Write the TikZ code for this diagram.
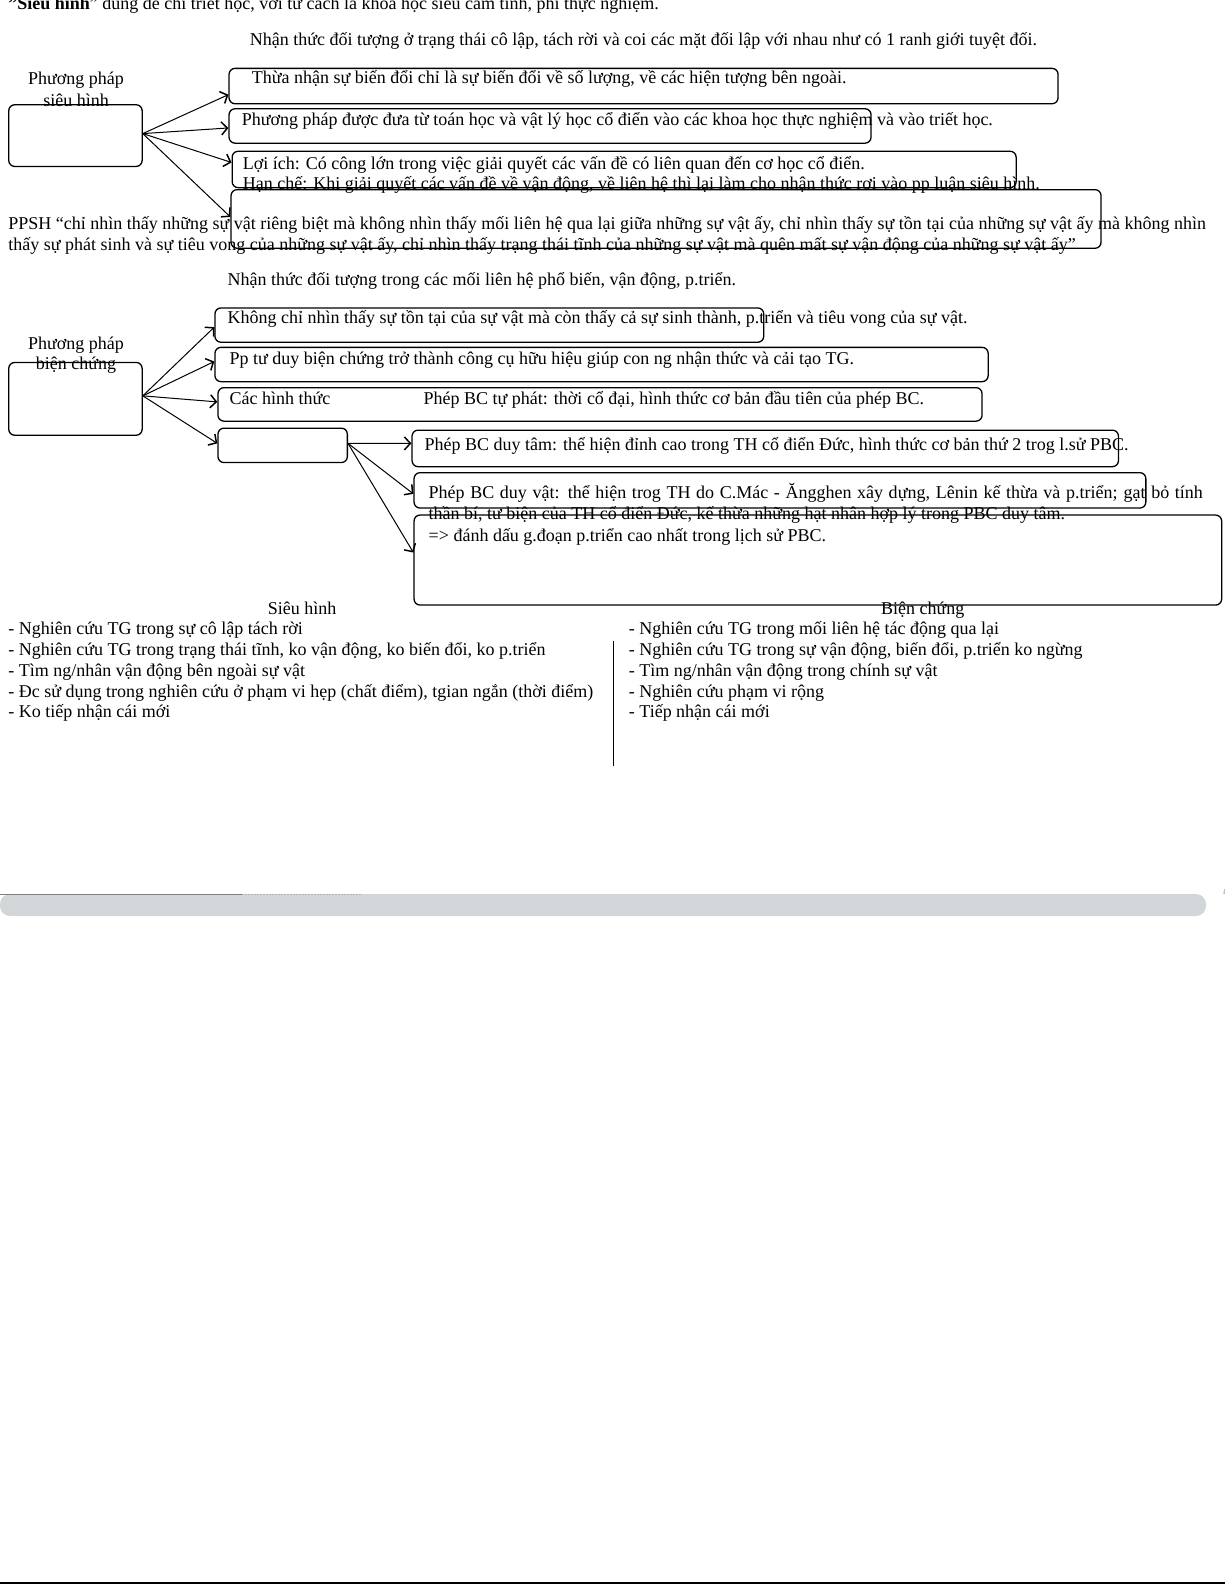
\documentclass[tikz,border=0pt]{standalone}
\usepackage{fontspec}
\setmainfont{Liberation Serif}
\usetikzlibrary{arrows.meta}
\begin{document}
\begin{tikzpicture}[x=1pt,y=-1pt,
  box/.style={draw, rounded corners=6pt, line width=1.3pt, anchor=north west, inner sep=0pt},
  txt/.style={anchor=base west, inner sep=0pt, font=\fontsize{18}{21}\selectfont},
  ctxt/.style={anchor=base, inner sep=0pt, font=\fontsize{18}{21}\selectfont},
  arr/.style={line width=1pt, -{Straight Barb[length=6pt,width=13pt,line width=1.5pt]}}]
\useasboundingbox (0,0) rectangle (1225,1585);
% top line (cut off at top edge, as in the reference)
\node[txt] (t0) at (8.1,9.5) {\textbf{\char34 Siêu hình}” dùng để chỉ triết học, với tư cách là khoa học siêu cảm tính, phi thực nghiệm.};
\begin{scope}[yshift=-2.5pt]
\node[txt] (t1) at (249.6,43) {Nhận thức đối tượng ở trạng thái cô lập, tách rời và coi các mặt đối lập với nhau như có 1 ranh giới tuyệt đối.};
\node[ctxt] (pp1) at (76,82) {Phương pháp};
\node[ctxt] (pp2) at (76,104) {siêu hình};
\node[txt] (b1t) at (251.7,81) {Thừa nhận sự biến đổi chỉ là sự biến đổi về số lượng, về các hiện tượng bên ngoài.};
\node[txt] (b2t) at (241.6,123.3) {Phương pháp được đưa từ toán học và vật lý học cổ điển vào các khoa học thực nghiệm và vào triết học.};
\node[txt] (b3t) at (242.6,166.8) {Lợi ích: Có công lớn trong việc giải quyết các vấn đề có liên quan đến cơ học cổ điển.};
\node[txt] (b3u) at (242.6,187) {Hạn chế: Khi giải quyết các vấn đề về vận động, về liên hệ thì lại làm cho nhận thức rơi vào pp luận siêu hình.};
\node[txt] (q1) at (8.1,227.4) {\hbox to 1197.7pt{PPSH “chỉ nhìn thấy những sự vật riêng biệt mà không nhìn thấy mối liên hệ qua lại giữa những sự vật ấy, chỉ nhìn thấy sự tồn tại của những sự vật ấy mà không nhìn}};
\node[txt] (q2) at (8.1,247.6) {thấy sự phát sinh và sự tiêu vong của những sự vật ấy, chỉ nhìn thấy trạng thái tĩnh của những sự vật mà quên mất sự vận động của những sự vật ấy”};
\node[txt] (t2) at (227.4,283) {Nhận thức đối tượng trong các mối liên hệ phổ biến, vận động, p.triển.};
\node[ctxt] (pb1) at (76,346.7) {Phương pháp};
\node[ctxt] (pb2) at (76,366.9) {biện chứng};
\node[txt] (c1t) at (227.4,321.4) {Không chỉ nhìn thấy sự tồn tại của sự vật mà còn thấy cả sự sinh thành, p.triển và tiêu vong của sự vật.};
\node[txt] (c2t) at (229.4,361.8) {Pp tư duy biện chứng trở thành công cụ hữu hiệu giúp con ng nhận thức và cải tạo TG.};
\node[txt] (c3t) at (229.4,402.3) {Các hình thức};
\node[txt] (c3u) at (423.5,402.3) {Phép BC tự phát: thời cổ đại, hình thức cơ bản đầu tiên của phép BC.};
\node[txt] (d1t) at (424.5,447.7) {Phép BC duy tâm: thể hiện đỉnh cao trong TH cổ điển Đức, hình thức cơ bản thứ 2 trog l.sử PBC.};
\node[txt] (d2t) at (428.5,496.3) {\hbox to 774.2pt{Phép BC duy vật: thể hiện trog TH do C.Mác - Ăngghen xây dựng, Lênin kế thừa và p.triển; gạt bỏ tính}};
\node[txt] (d2u) at (428.5,516.5) {thần bí, tư biện của TH cổ điển Đức, kế thừa những hạt nhân hợp lý trong PBC duy tâm.};
\node[txt] (d3t) at (428.5,538.5) {=> đánh dấu g.đoạn p.triển cao nhất trong lịch sử PBC.};
\node[ctxt] (sh) at (302.2,611.5) {Siêu hình};
\node[ctxt] (bc) at (922.8,611.5) {Biện chứng};
\node[txt] (l1) at (8.1,632.2) {- Nghiên cứu TG trong sự cô lập tách rời};
\node[txt] (l2) at (8.1,653.4) {- Nghiên cứu TG trong trạng thái tĩnh, ko vận động, ko biến đổi, ko p.triển};
\node[txt] (l3) at (8.1,673.6) {- Tìm ng/nhân vận động bên ngoài sự vật};
\node[txt] (l4) at (8.1,694.9) {- Đc sử dụng trong nghiên cứu ở phạm vi hẹp (chất điểm), tgian ngắn (thời điểm)};
\node[txt] (l5) at (8.1,715.1) {- Ko tiếp nhận cái mới};
\node[txt] (r1) at (628.7,632.2) {- Nghiên cứu TG trong mối liên hệ tác động qua lại};
\node[txt] (r2) at (628.7,653.4) {- Nghiên cứu TG trong sự vận động, biến đổi, p.triển ko ngừng};
\node[txt] (r3) at (628.7,673.6) {- Tìm ng/nhân vận động trong chính sự vật};
\node[txt] (r4) at (628.7,694.9) {- Nghiên cứu phạm vi rộng};
\node[txt] (r5) at (628.7,715.1) {- Tiếp nhận cái mới};
\end{scope}
% metaphysics boxes
\node[box, minimum width=133.4pt, minimum height=61.7pt] (ppsh) at (8.1,104.1) {};
\node[box, minimum width=829pt, minimum height=35.4pt] (b1) at (228.4,67.7) {};
\node[box, minimum width=642pt, minimum height=34.4pt] (b2) at (228.4,108.1) {};
\node[box, minimum width=784pt, minimum height=36.4pt] (b3) at (231.5,150.6) {};
\node[box, minimum width=870pt, minimum height=58.6pt] (b4) at (230.4,189) {};
\draw[arr] ([yshift=2pt]ppsh.east) -- ([yshift=-8.6pt]b1.west);
\draw[arr] ([yshift=2pt]ppsh.east) -- ([yshift=-2pt]b2.west);
\draw[arr] ([yshift=2pt]ppsh.east) -- ([yshift=7pt]b3.west);
\draw[arr] ([yshift=2pt]ppsh.east) -- ([yshift=2pt]b4.west);
% dialectics boxes
\node[box, minimum width=133.4pt, minimum height=72.8pt] (pbc) at (8.1,361.8) {};
\node[box, minimum width=548.8pt, minimum height=34.3pt] (c1) at (214.3,307.3) {};
\node[box, minimum width=773.2pt, minimum height=34.3pt] (c2) at (214.3,346.7) {};
\node[box, minimum width=764.1pt, minimum height=33.5pt] (c3) at (217.3,387) {};
\node[box, minimum width=129.4pt, minimum height=34.4pt] (c4) at (217.3,427.5) {};
\node[box, minimum width=706.4pt, minimum height=36.5pt] (d1) at (411.4,429.5) {};
\node[box, minimum width=731.8pt, minimum height=35.4pt] (d2) at (413.4,472) {};
\node[box, minimum width=807.6pt, minimum height=90pt] (d3) at (413.4,514.4) {};
\draw[arr] ([yshift=3pt]pbc.east) -- ([yshift=-2pt]c1.west);
\draw[arr] ([yshift=3pt]pbc.east) -- ([yshift=3pt]c2.west);
\draw[arr] ([yshift=3pt]pbc.east) -- ([yshift=2.5pt]c3.west);
\draw[arr] ([yshift=3pt]pbc.east) -- ([yshift=2pt]c4.west);
\draw[arr] ([yshift=2pt]c4.east) -- ([yshift=5pt]d1.west);
\draw[arr] ([yshift=2pt]c4.east) -- ([yshift=-3.5pt]d2.west);
\draw[arr] ([yshift=2pt]c4.east) -- ([yshift=7.5pt]d3.west);
% comparison divider
\coordinate (vtop) at (613.5,640.8);
\coordinate (vbot) at (613.5,766.1);
\draw[line width=1pt] (vtop) -- (vbot);
% bottom decorations
\fill[color={rgb,255:red,210;green,214;blue,217}, rounded corners=10pt] (0,894) rectangle (1206,916);
\draw[gray, line width=1pt] (0,894) -- (242,894);
\draw[gray!60, line width=1pt, dash pattern=on 2pt off 1pt] (242,894) -- (362,894);
\draw[color={rgb,255:red,190;green,194;blue,197}, line width=1.5pt] (1224,894) arc (180:200:14);
\draw[line width=2pt] (0,1583) -- (1225,1583);
\end{tikzpicture}
\end{document}
